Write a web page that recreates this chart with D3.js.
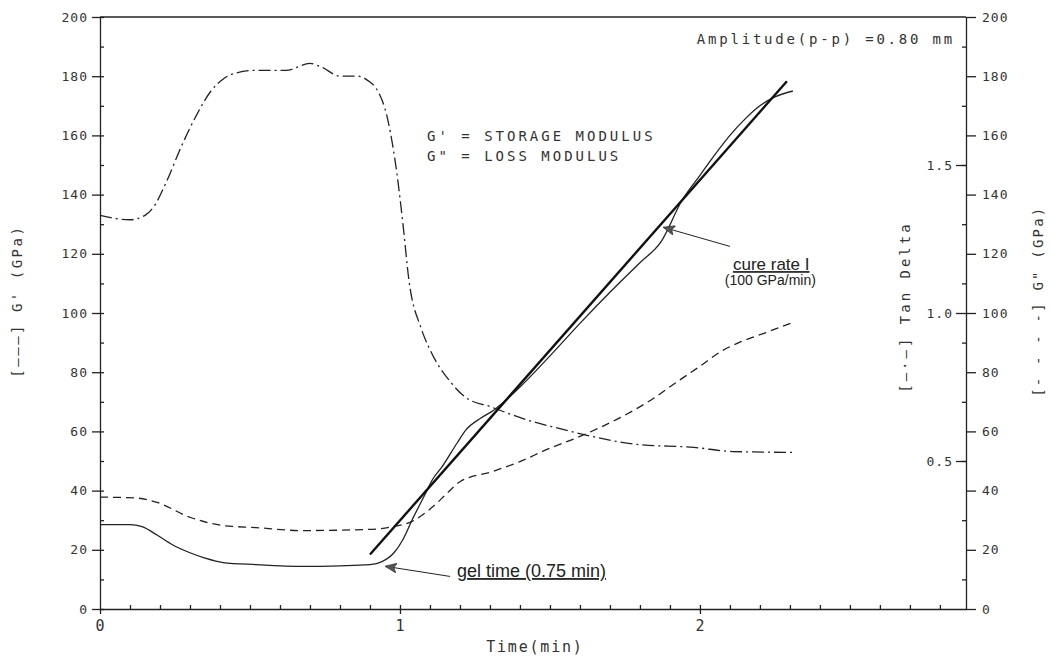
<!DOCTYPE html>
<html>
<head>
<meta charset="utf-8">
<script src="https://cdn.jsdelivr.net/npm/d3@7"></script>
<style>
  body { margin: 0; background: #fff; }
  svg text { font-family: "DejaVu Sans Mono", monospace; fill: #333; }
  .eje path, .eje line { stroke: #222; stroke-width: 1.3; }
  .eje text { font-size: 13px; letter-spacing: 1px; }
  .nota { font-family: "Liberation Sans", Arial, sans-serif !important; fill: #222 !important; }
</style>
</head>
<body>
<svg id="graf" width="1053" height="663"></svg>
<script>
// datos
// G' (solido)
gpTime = [0, 0.1, 0.14, 0.19, 0.24, 0.3, 0.35, 0.41, 0.52, 0.68, 0.8, 0.9, 0.94, 0.98, 1.01, 1.04, 1.08, 1.11, 1.14, 1.19, 1.22, 1.27, 1.31, 1.4, 1.5, 1.6, 1.7, 1.8, 1.87, 1.94, 2.0, 2.05, 2.1, 2.15, 2.2, 2.25, 2.31]
gpVals = [28.5, 28.5, 27.8, 25, 21.8, 19, 17.2, 15.7, 15, 14.4, 14.6, 15, 16, 19, 23.5, 30, 38, 44, 48, 56, 60.5, 64.5, 67, 75, 85.5, 96.5, 107, 117, 124, 138, 146.5, 153.5, 160, 165.5, 170, 173, 175]

// G'' (discontinua)
gppTime = [0, 0.12, 0.19, 0.3, 0.41, 0.52, 0.67, 0.9, 0.98, 1.04, 1.11, 1.16, 1.2, 1.31, 1.4, 1.49, 1.6, 1.75, 1.84, 1.92, 2.0, 2.07, 2.13, 2.22, 2.31]
gppVals = [37.8, 37.5, 36, 31, 28.2, 27.5, 26.5, 26.9, 27.9, 29.6, 34.6, 39.4, 43, 46.5, 49.8, 53.9, 58.3, 65.5, 70.8, 76.5, 82, 87, 90, 93.4, 96.8]

// Tan Delta (punto y raya)
tdTime = [0, 0.1, 0.15, 0.18, 0.22, 0.27, 0.32, 0.37, 0.41, 0.45, 0.52, 0.62, 0.7, 0.74, 0.8, 0.86, 0.9, 0.92, 0.96, 0.99, 1.01, 1.03, 1.07, 1.1, 1.17, 1.22, 1.3, 1.42, 1.53, 1.61, 1.79, 1.98, 2.11, 2.31]
tdVals = [1.33, 1.315, 1.33, 1.36, 1.44, 1.56, 1.665, 1.75, 1.79, 1.81, 1.82, 1.82, 1.843, 1.83, 1.80, 1.80, 1.78, 1.76, 1.65, 1.47, 1.30, 1.11, 0.95, 0.876, 0.765, 0.714, 0.684, 0.64, 0.61, 0.59, 0.556, 0.546, 0.532, 0.529]

// recta de velocidad de curado
tanTime = [0.9, 2.29]
tanVals = [18.4, 178.3]

gTicks = d3.range(0, 201, 20)
tanDeltaTicks = [0.5, 1.0, 1.5]
timeTicks = [0, 1, 2]

// I. Configuracion
svg = d3.select('#graf')
margins = { top: 17, left: 100, right: 87, bottom: 54 }
ancho_total = 1053
alto_total = 663
xMax = 2.887

x = d3.scaleLinear().domain([0, xMax]).range([margins.left, ancho_total - margins.right])
y = d3.scaleLinear().domain([0, 200]).range([alto_total - margins.bottom, margins.top])
yTan = d3.scaleLinear().domain([0, 2]).range(y.range())

xR = x.range()[1]
y0 = y(0)

// II. Ejes
// izquierdo
svg.append('g').attr('class', 'eje')
   .attr('transform', `translate(${margins.left},0)`)
   .call(d3.axisLeft(y).tickValues(gTicks).tickSize(8).tickPadding(4).tickSizeOuter(0))
svg.append('g').attr('class', 'eje')
   .attr('transform', `translate(${margins.left},0)`)
   .call(d3.axisRight(y).tickValues(d3.range(0, 201, 10)).tickSize(4).tickFormat(''))
   .select('.domain').remove()

// derecho G''
svg.append('g').attr('class', 'eje')
   .attr('transform', `translate(${xR},0)`)
   .call(d3.axisRight(y).tickValues(gTicks).tickSize(10).tickPadding(6).tickSizeOuter(0))
svg.append('g').attr('class', 'eje')
   .attr('transform', `translate(${xR},0)`)
   .call(d3.axisLeft(y).tickValues(d3.range(10, 201, 20)).tickSize(4).tickFormat(''))
   .select('.domain').remove()
// derecho Tan Delta
svg.append('g').attr('class', 'eje')
   .attr('transform', `translate(${xR},0)`)
   .call(d3.axisLeft(yTan).tickValues(tanDeltaTicks).tickSize(10).tickPadding(3).tickFormat(d3.format('.1f')))
   .select('.domain').remove()

// inferior
svg.append('g').attr('class', 'eje')
   .attr('transform', `translate(0,${y0})`)
   .call(d3.axisBottom(x).tickValues(timeTicks).tickSize(5).tickPadding(6).tickSizeOuter(0).tickFormat(d3.format('d')))
   .selectAll('text').style('font-size', '15px')
svg.append('g').attr('class', 'eje')
   .attr('transform', `translate(0,${y0})`)
   .call(d3.axisTop(x).tickValues(d3.range(0.1, 2.85, 0.1)).tickSize(4).tickFormat(''))
   .select('.domain').remove()

// superior
svg.append('line')
   .attr('x1', x(0)).attr('x2', xR)
   .attr('y1', y(200)).attr('y2', y(200))
   .style('stroke', '#222').style('stroke-width', 1.3)

// titulos de ejes
svg.append('text')
   .attr('transform', `translate(22, ${y(104)}) rotate(-90)`)
   .attr('text-anchor', 'middle')
   .style('font-size', '14px').style('letter-spacing', '2.5px')
   .text('[\u2014\u2014\u2014] G\' (GPa)')

svg.append('text')
   .attr('transform', `translate(910, ${y(102)}) rotate(-90)`)
   .attr('text-anchor', 'middle')
   .style('font-size', '14px').style('letter-spacing', '3px')
   .text('[\u2014\u00b7\u2014]  Tan Delta')

svg.append('text')
   .attr('transform', `translate(1043, ${y(104)}) rotate(-90)`)
   .attr('text-anchor', 'middle')
   .style('font-size', '14px').style('letter-spacing', '2.2px')
   .text('[- - - -] G" (GPa)')

svg.append('text')
   .attr('x', x(1.45)).attr('y', 652)
   .attr('text-anchor', 'middle')
   .style('font-size', '15px').style('letter-spacing', '1.8px')
   .text('Time(min)')

// III. Curvas
linea = d3.line()
          .x(d => x(d[0]))
          .curve(d3.curveMonotoneX)

svg.append('path')
   .attr('d', linea.y(d => yTan(d[1]))(d3.zip(tdTime, tdVals)))
   .style('fill', 'none').style('stroke', '#222').style('stroke-width', 1.3)
   .style('stroke-dasharray', '12,4,2,4')

svg.append('path')
   .attr('d', linea.y(d => y(d[1]))(d3.zip(gppTime, gppVals)))
   .style('fill', 'none').style('stroke', '#222').style('stroke-width', 1.3)
   .style('stroke-dasharray', '8,5')

svg.append('path')
   .attr('d', linea.y(d => y(d[1]))(d3.zip(gpTime, gpVals)))
   .style('fill', 'none').style('stroke', '#222').style('stroke-width', 1.3)

svg.append('path')
   .attr('d', d3.line().x(d => x(d[0])).y(d => y(d[1]))(d3.zip(tanTime, tanVals)))
   .style('fill', 'none').style('stroke', '#111').style('stroke-width', 2.4)

// IV. Textos
svg.append('text')
   .attr('x', 955).attr('y', 44)
   .attr('text-anchor', 'end')
   .style('font-size', '14px').style('letter-spacing', '2.8px')
   .text('Amplitude(p-p) =0.80 mm')

svg.append('text')
   .attr('x', 427).attr('y', 141)
   .style('font-size', '14px').style('letter-spacing', '3px')
   .text('G\'  = STORAGE MODULUS')
svg.append('text')
   .attr('x', 427).attr('y', 161)
   .style('font-size', '14px').style('letter-spacing', '3px')
   .text('G"  = LOSS MODULUS')

// flechas
svg.append('defs').append('marker')
   .attr('id', 'punta')
   .attr('viewBox', '0 0 12 10')
   .attr('refX', 1).attr('refY', 5)
   .attr('markerWidth', 12).attr('markerHeight', 10)
   .attr('markerUnits', 'userSpaceOnUse')
   .attr('orient', 'auto')
   .append('path')
   .attr('d', 'M0,5 L12,0 L9,5 L12,10 Z')
   .style('fill', '#555').style('stroke', '#222').style('stroke-width', 0.6)

function flecha(t0, v0, t1, v1) {
  svg.append('line')
     .attr('x1', x(t0)).attr('y1', y(v0))
     .attr('x2', x(t1)).attr('y2', y(v1))
     .style('stroke', '#222').style('stroke-width', 1)
     .attr('marker-start', 'url(#punta)')
}
flecha(0.953, 14.4, 1.167, 11)
flecha(1.88, 128.9, 2.1, 122.5)

function nota(texto, t, v, size, subrayado) {
  n = svg.append('text')
     .attr('class', 'nota')
     .attr('x', x(t)).attr('y', y(v))
     .style('font-size', size + 'px')
     .text(texto)
  if (subrayado) n.style('text-decoration', 'underline')
}
nota('gel time (0.75 min)', 1.19, 10.8, 18, true)
nota('cure rate I', 2.11, 114.5, 17, true)
nota('(100 GPa/min)', 2.083, 109.3, 14, false)
</script>
</body>
</html>
